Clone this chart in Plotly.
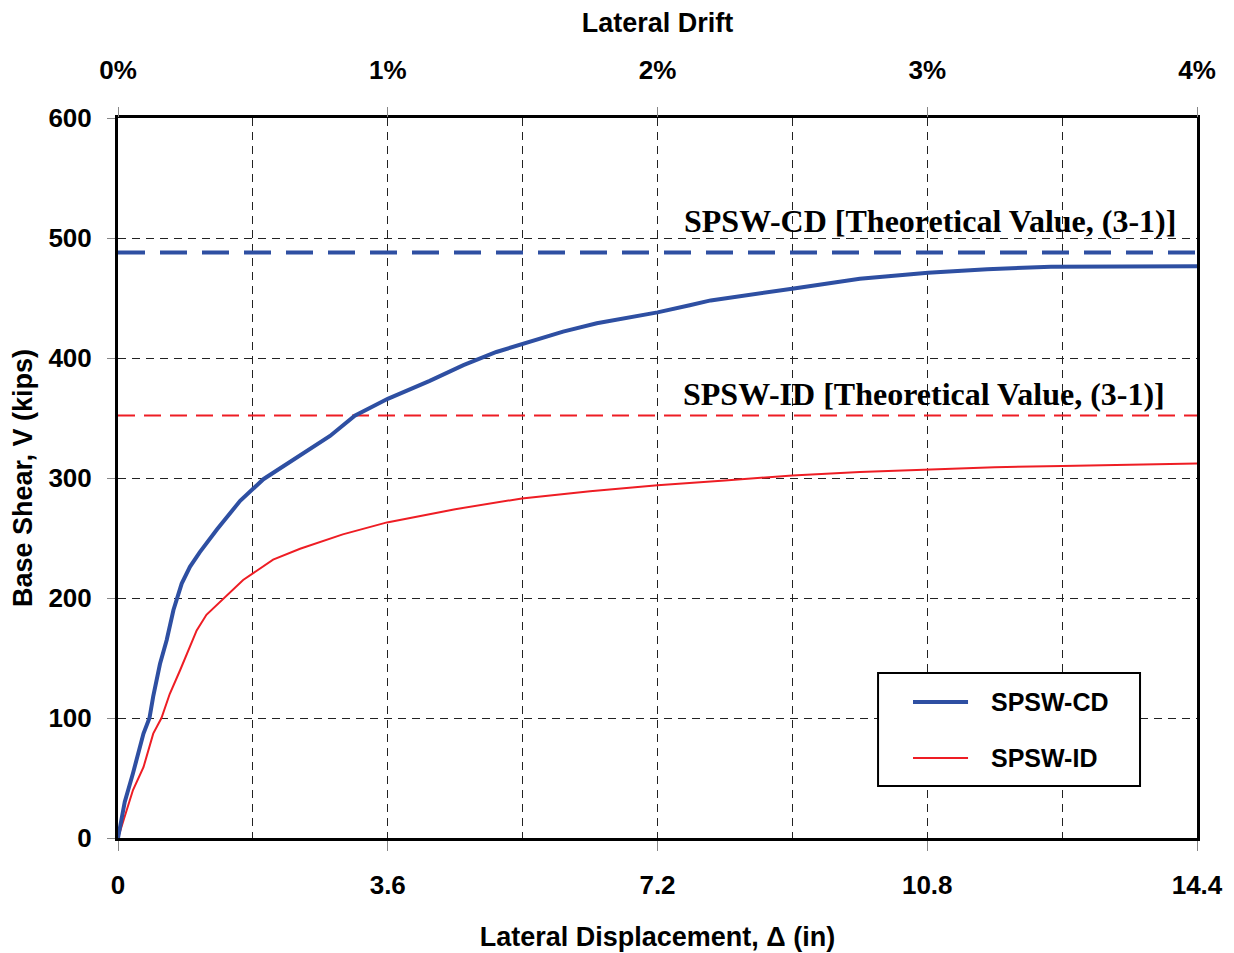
import plotly.graph_objects as go

# ---- data ----
cd_disp = [0, 0.05, 0.09, 0.2, 0.34, 0.42, 0.47, 0.56, 0.65, 0.74, 0.79, 0.85, 0.96, 1.09, 1.32,
           1.63, 1.94, 2.39, 2.83, 3.16, 3.6, 4.16, 4.61, 5.05, 5.4, 5.94, 6.39, 7.2, 7.63, 7.91,
           9.02, 9.9, 10.81, 11.6, 12.45, 13.4, 14.4]
cd_shear = [0, 18, 30, 54, 87, 100, 118, 145, 165, 190, 200, 212, 226, 238, 257,
            281, 299, 317, 335, 352, 366, 381, 394, 405, 412, 422, 429, 438, 444, 448,
            458, 466, 471, 474, 476, 476.5, 476.5]

id_disp = [0, 0.2, 0.34, 0.47, 0.58, 0.69, 0.83, 0.92, 1.05, 1.18, 1.41, 1.67, 2.07, 2.43, 3.0,
           3.59, 4.5, 5.39, 6.3, 7.2, 8.1, 9.0, 9.9, 10.8, 11.7, 12.6, 13.5, 14.4]
id_shear = [0, 40, 59, 87, 100, 120, 140, 154, 173, 186, 200, 215, 232, 241, 253,
            263, 274, 283, 289, 294, 298, 302, 305, 307, 309, 310, 311, 312]

cd_theory = 488
id_theory = 352
x_span = [0, 14.4]

x_ticks = [0, 3.6, 7.2, 10.8, 14.4]
x_tick_text = ["0", "3.6", "7.2", "10.8", "14.4"]
y_ticks = [0, 100, 200, 300, 400, 500, 600]
drift_ticks = [0, 1, 2, 3, 4]
drift_tick_text = ["0%", "1%", "2%", "3%", "4%"]

series_names = ["SPSW-CD", "SPSW-ID"]
theory_labels = ["SPSW-CD [Theoretical Value, (3-1)]", "SPSW-ID [Theoretical Value, (3-1)]"]

BLUE = "#2E4FA2"
RED = "#EE1D24"
SANS = "Liberation Sans"
SERIF = "Liberation Serif"

fig = go.Figure()

fig.add_trace(go.Scatter(x=x_span, y=[cd_theory, cd_theory], mode="lines",
                         line=dict(color=BLUE, width=4, dash="27px,15px"),
                         showlegend=False, hoverinfo="skip"))
fig.add_trace(go.Scatter(x=x_span, y=[id_theory, id_theory], mode="lines",
                         line=dict(color=RED, width=2, dash="17px,9px"),
                         showlegend=False, hoverinfo="skip"))
fig.add_trace(go.Scatter(x=id_disp, y=id_shear, mode="lines", name=series_names[1],
                         line=dict(color=RED, width=2), showlegend=False))
fig.add_trace(go.Scatter(x=cd_disp, y=cd_shear, mode="lines", name=series_names[0],
                         line=dict(color=BLUE, width=4), showlegend=False))
# invisible trace to anchor the top (drift) axis
fig.add_trace(go.Scatter(x=[drift_ticks[0], drift_ticks[-1]], y=[0, 0], xaxis="x2", mode="lines",
                         line=dict(width=0), opacity=0, showlegend=False, hoverinfo="skip"))

tick_font = dict(family=SANS, size=26, color="black", weight="bold")
title_font = dict(family=SANS, size=27, color="black", weight="bold")
grid_common = dict(showgrid=True, gridcolor="#222222", gridwidth=1, griddash="8px,6px")

fig.update_layout(
    width=1234, height=953,
    margin=dict(l=118, r=37, t=118, b=115, autoexpand=False),
    paper_bgcolor="white", plot_bgcolor="white",
    showlegend=False,
    xaxis=dict(range=[0, 14.4], tickvals=x_ticks, ticktext=x_tick_text,
               ticks="outside", ticklen=10, tickcolor="#888888", tickwidth=1,
               tickfont=tick_font, ticklabelstandoff=12, automargin=False,
               showline=True, linecolor="black", linewidth=3, mirror=True,
               zeroline=False,
               minor=dict(dtick=1.8, tick0=0, showgrid=True, gridcolor="#222222",
                          gridwidth=1, griddash="8px,6px", ticks=""),
               title=dict(text="Lateral Displacement, Δ (in)", font=title_font, standoff=28),
               **grid_common),
    xaxis2=dict(range=[0, 4], overlaying="x", side="top", tickvals=drift_ticks,
                ticktext=drift_tick_text, ticks="outside", ticklen=10, tickcolor="#888888",
                tickfont=tick_font, ticklabelstandoff=18, showgrid=False, showline=False,
                zeroline=False, automargin=False,
                title=dict(text="Lateral Drift", font=title_font, standoff=14)),
    yaxis=dict(range=[0, 600], tickvals=y_ticks, ticks="outside", ticklen=8,
               tickcolor="#888888", tickwidth=1, tickfont=tick_font, ticklabelstandoff=10,
               automargin=False,
               showline=True, linecolor="black", linewidth=3, mirror=True, zeroline=False,
               title=dict(text="Base Shear, V (kips)", font=title_font, standoff=8),
               **grid_common),
)

ann_font = dict(family=SERIF, size=32, color="black", weight="bold")
fig.add_annotation(x=14.14, y=cd_theory, yshift=31, text=theory_labels[0], showarrow=False,
                   xanchor="right", yanchor="middle", font=ann_font)
fig.add_annotation(x=14.0, y=id_theory, yshift=22, text=theory_labels[1], showarrow=False,
                   xanchor="right", yanchor="middle", font=ann_font)

# legend box (drawn manually to match the reference proportions)
fig.add_shape(type="rect", xref="paper", yref="paper", x0=0.7044, x1=0.9472, y0=0.0722, y1=0.2292,
              line=dict(color="black", width=2), fillcolor="white", layer="above")
leg_font = dict(family=SANS, size=25, color="black", weight="bold")
for name, color, width, yy in [(series_names[0], BLUE, 4, 0.1889), (series_names[1], RED, 2, 0.1111)]:
    fig.add_shape(type="line", xref="paper", yref="paper", x0=0.7368, x1=0.7878, y0=yy, y1=yy,
                  line=dict(color=color, width=width), layer="above")
    fig.add_annotation(xref="paper", yref="paper", x=0.807, y=yy, text=name, showarrow=False,
                       xanchor="left", yanchor="middle", font=leg_font)

fig.write_html("out.html")
